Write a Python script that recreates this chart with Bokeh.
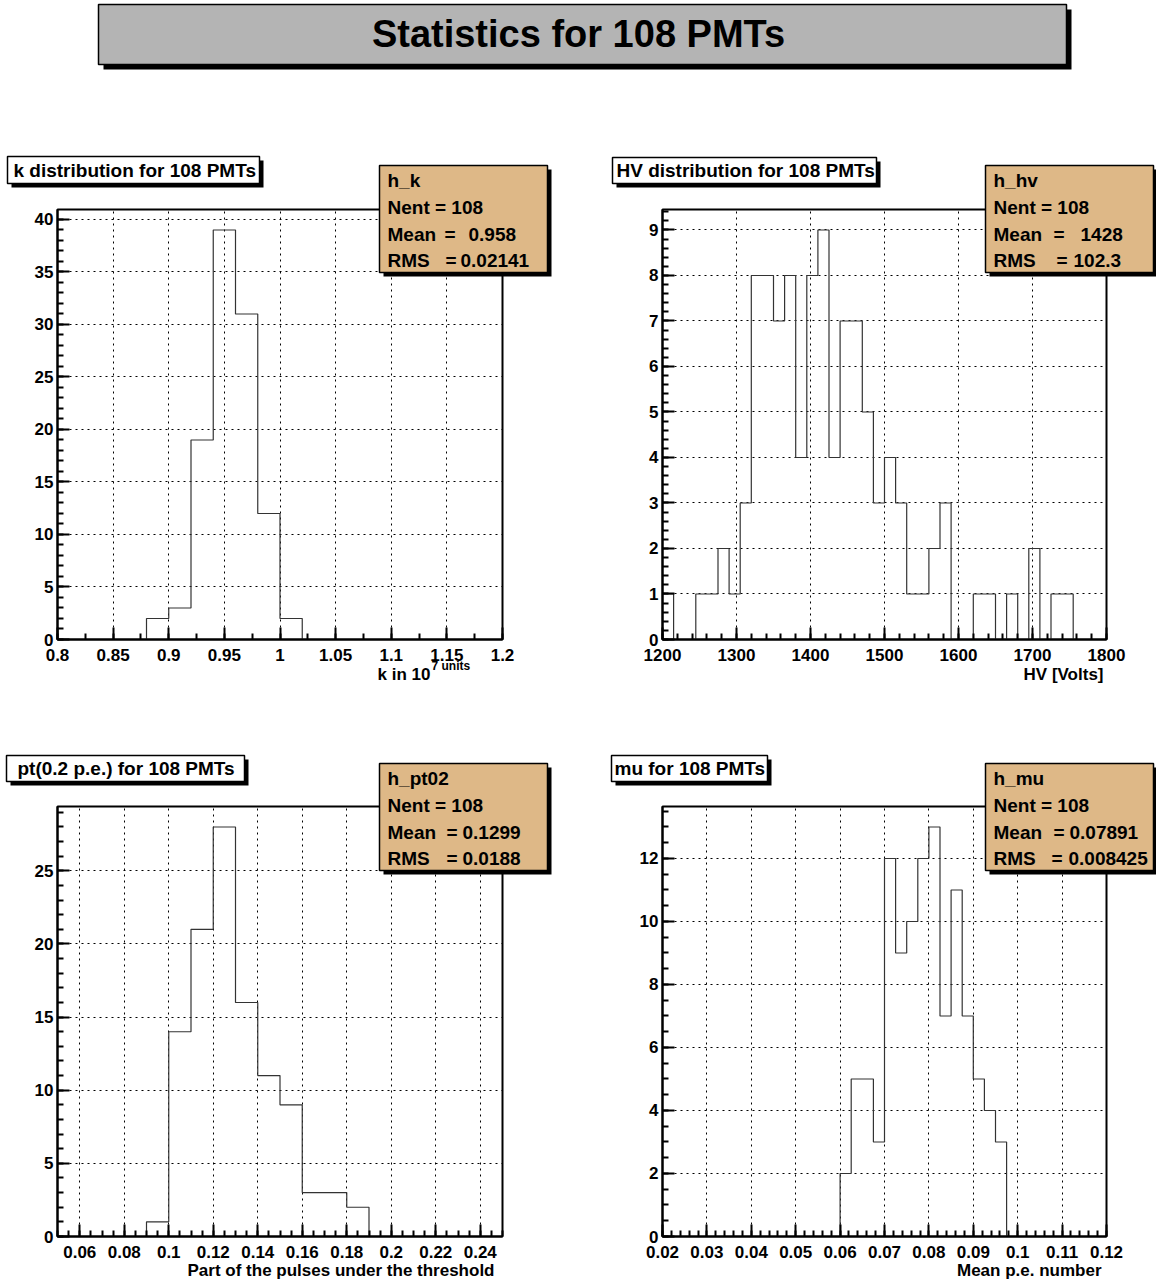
import numpy as np
from bokeh.plotting import figure
from bokeh.models import (BoxAnnotation, Label, FixedTicker, CustomJSTickFormatter,
                          Range1d, GridBox, Spacer)
from bokeh.embed import file_html
from bokeh.resources import INLINE

FONT = "Liberation Sans"

# ---------------- data ----------------
MAIN_TITLE = "Statistics for 108 PMTs"

K_LO, K_HI, K_W = 0.80, 1.20, 0.02
K_COUNTS = [0, 0, 0, 0, 2, 3, 19, 39, 31, 12, 2, 0, 0, 0, 0, 0, 0, 0, 0, 0]
K_TITLE = "k distribution for 108 PMTs"
K_STATS = ["h_k", "Nent = 108", "0.958", "0.02141"]
K_XTITLE = ["k in 10", "7 units"]

HV_LO, HV_HI, HV_W = 1200, 1800, 15
HV_COUNTS = [1, 0, 0, 1, 1, 2, 1, 3, 8, 8, 7, 8, 4, 8, 9, 4, 7, 7, 5, 3,
             4, 3, 1, 1, 2, 3, 0, 0, 1, 1, 0, 1, 0, 2, 0, 1, 1, 0, 0, 0]
HV_TITLE = "HV distribution for 108 PMTs"
HV_STATS = ["h_hv", "Nent = 108", "1428", "102.3"]
HV_XTITLE = ["HV [Volts]"]

PT_LO, PT_HI, PT_W = 0.05, 0.25, 0.01
PT_COUNTS = [0, 0, 0, 0, 1, 14, 21, 28, 16, 11, 9, 3, 3, 2, 0, 0, 0, 0, 0, 0]
PT_TITLE = "pt(0.2 p.e.) for 108 PMTs"
PT_STATS = ["h_pt02", "Nent = 108", "0.1299", "0.0188"]
PT_XTITLE = ["Part of the pulses under the threshold"]

MU_LO, MU_HI, MU_W = 0.02, 0.12, 0.0025
MU_COUNTS = [0] * 16 + [2, 5, 5, 3, 12, 9, 10, 12, 13, 7, 11, 7, 5, 4, 3] + [0] * 9
MU_TITLE = "mu for 108 PMTs"
MU_STATS = ["h_mu", "Nent = 108", "0.07891", "0.008425"]
MU_XTITLE = ["Mean p.e. number"]

# tick configuration (major start, end, step; minor step)
K_XT = dict(major=(0.8, 1.2, 0.05), minor=0.025)
K_YT = dict(major=(0, 40, 5), minor=1)
HV_XT = dict(major=(1200, 1800, 100), minor=20)
HV_YT = dict(major=(0, 9, 1), minor=0.2)
PT_XT = dict(major=(0.06, 0.24, 0.02), minor=0.005)
PT_YT = dict(major=(0, 25, 5), minor=1)
MU_XT = dict(major=(0.02, 0.12, 0.01), minor=0.002)
MU_YT = dict(major=(0, 12, 2), minor=0.5)

PAGE_W, PAGE_H = 1156, 1283


def make_ticker(spec, lo, hi):
    a, b, s = spec["major"]
    n = int(round((b - a) / s))
    major = [round(a + i * s, 6) for i in range(n + 1)]
    m = spec["minor"]
    k0 = int(np.ceil(lo / m - 1e-6))
    k1 = int(np.floor(hi / m + 1e-6))
    minor = [round(k * m, 6) for k in range(k0, k1 + 1)]
    return FixedTicker(ticks=major, minor_ticks=minor)


FMT = CustomJSTickFormatter(code="return String(parseFloat(tick.toPrecision(6)));")


# ---------------- histogram panels ----------------
def panel(spec):
    fl, ft, fr, fb = spec["frame"]
    lo, hi, w, counts = spec["lo"], spec["hi"], spec["w"], spec["counts"]
    ymax = 1.05 * max(counts)
    p = figure(frame_width=fr - fl, frame_height=fb - ft,
               min_border_left=spec["bl"], min_border_right=spec["br"],
               min_border_top=spec["bt"], min_border_bottom=spec["bb"],
               x_range=Range1d(lo, hi), y_range=Range1d(0, ymax),
               toolbar_location=None, output_backend="svg")
    p.background_fill_color = "white"
    p.border_fill_color = "white"
    p.outline_line_color = "black"
    p.outline_line_width = 2

    xt = make_ticker(spec["xt"], lo, hi)
    yt = make_ticker(spec["yt"], 0, ymax)
    p.xaxis.ticker = xt
    p.yaxis.ticker = yt
    p.xgrid.ticker = xt
    p.ygrid.ticker = yt
    for ax in (p.xaxis[0], p.yaxis[0]):
        ax.formatter = FMT
        ax.axis_line_width = 2
        ax.axis_line_color = "black"
        ax.major_tick_in = 12
        ax.major_tick_out = 0
        ax.minor_tick_in = 6
        ax.minor_tick_out = 0
        ax.major_tick_line_width = 2
        ax.minor_tick_line_width = 2
        ax.major_tick_line_color = "black"
        ax.minor_tick_line_color = "black"
        ax.major_label_text_font = FONT
        ax.major_label_text_font_size = "17px"
        ax.major_label_text_font_style = "bold"
        ax.major_label_text_color = "black"
    p.xaxis.major_label_standoff = 9
    p.yaxis.major_label_standoff = 4
    p.grid.grid_line_color = "black"
    p.grid.grid_line_width = 1
    p.grid.grid_line_dash = "2 4"

    edges = lo + w * np.arange(len(counts) + 1)
    xs = np.repeat(edges, 2)
    ys = np.concatenate([[0], np.repeat(np.asarray(counts, float), 2), [0]])
    p.line(xs, ys, line_color="#333333", line_width=1.2)
    return p


# ---------------- decoration overlay (titles, stat boxes, axis titles) ----------------
deco = figure(width=PAGE_W, height=PAGE_H, x_range=Range1d(0, PAGE_W),
              y_range=Range1d(0, PAGE_H), x_axis_type=None, y_axis_type=None,
              toolbar_location=None, output_backend="svg", min_border=0)
deco.background_fill_color = None
deco.border_fill_color = None
deco.outline_line_color = None


def dbox(l, t, r, b, fill, sh=4, lw=1.5):
    deco.add_layout(BoxAnnotation(left=l + sh, right=r + sh,
                                  top=PAGE_H - (t + sh), bottom=PAGE_H - (b + sh),
                                  fill_color="black", fill_alpha=1.0, line_color=None))
    deco.add_layout(BoxAnnotation(left=l, right=r, top=PAGE_H - t, bottom=PAGE_H - b,
                                  fill_color=fill, fill_alpha=1.0, line_color="black",
                                  line_alpha=1.0, line_width=lw))


def dtxt(X, Y, text, size, align="left"):
    # Y is the wanted baseline (image px); the renderer sits text ~0.37em lower
    px = float(size.replace("px", ""))
    deco.add_layout(Label(x=X, y=PAGE_H - (Y - 0.37 * px), text=text, text_font=FONT,
                          text_font_size=size, text_font_style="bold",
                          text_color="black", text_align=align,
                          text_baseline="alphabetic"))


dbox(98, 4, 1066, 64, "#b4b4b4", sh=5)
dtxt(578, 48, MAIN_TITLE, "38px", align="center")


def decorate(spec):
    l, t, r, b = spec["tbox"]
    dbox(l, t, r, b, "white", sh=4)
    dtxt(spec["tx"], b - 6, spec["title"], "19px")

    l, t, r, b = spec["sbox"]
    dbox(l, t, r, b, "#deb887", sh=4)
    name, nent, mean, rms = spec["stats"]
    me, mv, re_, rv = spec["soff"]
    x0 = l + 8
    dtxt(x0, t + 22, name, "19px")
    dtxt(x0, t + 49, nent, "19px")
    dtxt(x0, t + 76, "Mean", "19px")
    dtxt(l + me, t + 76, "=", "19px")
    dtxt(l + mv, t + 76, mean, "19px")
    dtxt(x0, t + 102, "RMS", "19px")
    dtxt(l + re_, t + 102, "=", "19px")
    dtxt(l + rv, t + 102, rms, "19px")

    for (X, Y, s, size, align) in spec["xlabel"]:
        dtxt(X, Y, s, size, align=align)


P1 = dict(frame=(57, 209, 502, 639), bl=57, br=76, bt=61, bb=109,
          lo=K_LO, hi=K_HI, w=K_W, counts=K_COUNTS, xt=K_XT, yt=K_YT,
          tbox=(7, 156, 259, 183), tx=13, title=K_TITLE,
          sbox=(379, 165, 547, 272), stats=K_STATS, soff=(65, 89, 66, 81),
          xlabel=[(430, 680, K_XTITLE[0], "17px", "right"),
                  (431, 670, K_XTITLE[1], "12px", "left")])
P2 = dict(frame=(662, 209, 1106, 639), bl=84, br=50, bt=61, bb=109,
          lo=HV_LO, hi=HV_HI, w=HV_W, counts=HV_COUNTS, xt=HV_XT, yt=HV_YT,
          tbox=(612, 157, 876, 183), tx=616, title=HV_TITLE,
          sbox=(985, 165, 1153, 272), stats=HV_STATS, soff=(68, 95, 71, 88),
          xlabel=[(1103, 680, HV_XTITLE[0], "17px", "right")])
P3 = dict(frame=(57, 806, 502, 1236), bl=57, br=76, bt=58, bb=47,
          lo=PT_LO, hi=PT_HI, w=PT_W, counts=PT_COUNTS, xt=PT_XT, yt=PT_YT,
          tbox=(6, 755, 244, 781), tx=17, title=PT_TITLE,
          sbox=(379, 763, 547, 870), stats=PT_STATS, soff=(67, 83, 67, 83),
          xlabel=[(494, 1276, PT_XTITLE[0], "17px", "right")])
P4 = dict(frame=(662, 806, 1106, 1236), bl=84, br=50, bt=58, bb=47,
          lo=MU_LO, hi=MU_HI, w=MU_W, counts=MU_COUNTS, xt=MU_XT, yt=MU_YT,
          tbox=(611, 755, 767, 781), tx=614, title=MU_TITLE,
          sbox=(985, 763, 1153, 870), stats=MU_STATS, soff=(68, 84, 66, 83),
          xlabel=[(1101, 1276, MU_XTITLE[0], "17px", "right")])

p1, p2, p3, p4 = (panel(s) for s in (P1, P2, P3, P4))
for s in (P1, P2, P3, P4):
    decorate(s)

# grid: empty zero-size edge tracks (col 0, col 3, row 3) so the overlay's
# frame is not aligned to the histogram frames
grid = GridBox(children=[(Spacer(width=0, height=0), 0, 0),
                         (Spacer(width=PAGE_W, height=148), 0, 1, 1, 2),
                         (Spacer(width=0, height=0), 0, 3),
                         (p1, 1, 1), (p2, 1, 2), (p3, 2, 1), (p4, 2, 2),
                         (Spacer(width=0, height=0), 3, 0),
                         (deco, 0, 0, 4, 4)], spacing=0)

open("out.html", "w").write(file_html(grid, INLINE))
